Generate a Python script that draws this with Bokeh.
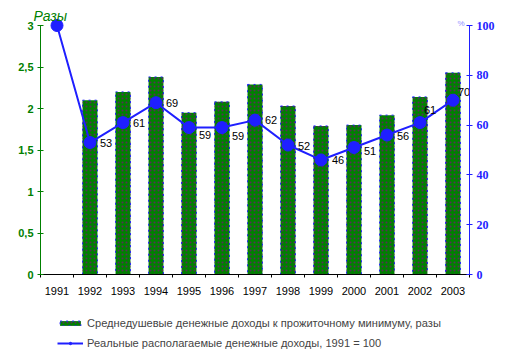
from bokeh.plotting import figure
from bokeh.layouts import column
from bokeh.models import (Range1d, LinearAxis, FixedTicker, Legend, LegendItem,
                          Label, ColumnDataSource)
from bokeh.core.properties import value
from bokeh.embed import file_html
from bokeh.resources import INLINE

# ---- data ----
years = ["1991", "1992", "1993", "1994", "1995", "1996", "1997",
         "1998", "1999", "2000", "2001", "2002", "2003"]
income_ratio = [None, 2.10, 2.20, 2.38, 1.95, 2.08, 2.29, 2.03, 1.79, 1.80, 1.92, 2.14, 2.43]
real_income = [100, 53, 61, 69, 59, 59, 62, 52, 46, 51, 56, 61, 70]
left_ticks = [0, 0.5, 1, 1.5, 2, 2.5, 3]
right_ticks = [0, 20, 40, 60, 80, 100]
bar_label = "Среднедушевые денежные доходы к прожиточному минимуму, разы"
line_label = "Реальные располагаемые денежные доходы, 1991 = 100"
left_title = "Разы"
right_title = "%"

# ---- styling ----
lab_dx = [10, 10, 10, 10, 10, 10, 10, 11, 10, 10, 4, 5]
lab_dy = [0.5, 0.5, 0, 7, 8, 0, 0.5, 0, 3, 0.5, -12.5, -8.5]
GREEN = "#008000"
BLUE = "#1f1fff"
W = 508
TOP = 17               # border above the frame
FRAME_H = 257          # frame (extends 8px above the axes' top)
AXIS_H = 249           # length of the value axes
BOTTOM = 30
LEG_H = 52

n = len(years)
centers = [i + 0.5 for i in range(n)]
left_max, right_max = 3, 100
extra = FRAME_H / AXIS_H

bar_style = dict(fill_color=GREEN, line_color=BLUE, line_dash="dotted", line_width=1,
                 hatch_pattern="dot", hatch_color="#5a2a5a", hatch_scale=4, hatch_weight=1)
line_style = dict(line_color=BLUE, line_width=2)
pt_style = dict(fill_color=BLUE, line_color=BLUE)

# ---- main chart ----
p = figure(width=W, height=TOP + FRAME_H + BOTTOM, frame_height=FRAME_H,
           min_border_left=40, min_border_right=W - 40 - 429,
           min_border_top=TOP, min_border_bottom=BOTTOM,
           x_range=Range1d(0, n), y_range=Range1d(0, left_max * extra),
           output_backend="svg", toolbar_location=None)
p.extra_y_ranges = {"pct": Range1d(0, right_max * extra)}
p.xgrid.visible = False
p.ygrid.visible = False
p.outline_line_color = None

p.title.text = left_title
p.title.align = "left"
p.title.offset = -7
p.title.standoff = -12
p.title.text_font = "Liberation Sans"
p.title.text_font_style = "italic"
p.title.text_font_size = "14px"
p.title.text_color = GREEN

bx = [c for c, v in zip(centers, income_ratio) if v is not None]
bt = [v for v in income_ratio if v is not None]
bars = p.vbar(x=bx, top=bt, width=0.45, bottom=0, **bar_style)
p.line(centers, real_income, y_range_name="pct", **line_style)
p.scatter(centers, real_income, y_range_name="pct", size=12, **pt_style)

src = ColumnDataSource(dict(x=centers[1:], y=real_income[1:],
                            t=[str(v) for v in real_income[1:]], dx=lab_dx, dy=lab_dy))
p.text(x="x", y="y", text="t", source=src, y_range_name="pct",
       x_offset="dx", y_offset="dy", text_font=value("Liberation Sans"),
       text_font_size="11px", text_color="black",
       text_align="left", text_baseline="middle")

p.add_layout(Label(x=n, y=left_max, text=right_title, x_offset=-12, y_offset=2,
                   text_font="Liberation Sans", text_font_size="8px",
                   text_color="#9090ff", text_baseline="alphabetic"))

xa = p.xaxis[0]
xa.ticker = FixedTicker(ticks=centers, minor_ticks=list(range(n + 1)))
xa.major_label_overrides = {c: y for c, y in zip(centers, years)}
xa.major_tick_in = 0
xa.major_tick_out = 0
xa.minor_tick_in = 0
xa.minor_tick_out = 3
xa.axis_line_color = "black"
xa.minor_tick_line_color = "black"
xa.major_label_text_font = "Liberation Sans"
xa.major_label_text_font_size = "11px"
xa.major_label_text_color = "black"
xa.major_label_standoff = 9

ya = p.yaxis[0]
ya.ticker = FixedTicker(ticks=left_ticks)
ya.bounds = (0, left_max)
ya.major_label_overrides = {t: (f"{t:g}").replace(".", ",") for t in left_ticks}
ya.axis_line_color = GREEN
ya.major_tick_line_color = GREEN
ya.major_tick_in = 3
ya.major_tick_out = 3
ya.minor_tick_line_color = None
ya.major_label_text_color = GREEN
ya.major_label_text_font = "Liberation Sans"
ya.major_label_text_font_style = "bold"
ya.major_label_text_font_size = "11px"
ya.major_label_standoff = 4

ra = LinearAxis(y_range_name="pct", ticker=FixedTicker(ticks=right_ticks),
                bounds=(0, right_max))
ra.axis_line_color = BLUE
ra.major_tick_line_color = BLUE
ra.major_tick_in = 3
ra.major_tick_out = 3
ra.minor_tick_line_color = None
ra.major_label_text_color = BLUE
ra.major_label_text_font = "Liberation Serif"
ra.major_label_text_font_style = "bold"
ra.major_label_text_font_size = "12px"
ra.major_label_standoff = 4
p.add_layout(ra, "right")

# ---- legend strip (frame aligned with the chart's frame) ----
nan = float("nan")
lg = figure(width=W, height=LEG_H, x_range=Range1d(0, 1), y_range=Range1d(0, 1),
            min_border_left=40, min_border_right=W - 40 - 429,
            min_border_top=0, min_border_bottom=0,
            output_backend="svg", toolbar_location=None)
lg.xaxis.visible = False
lg.yaxis.visible = False
lg.xgrid.visible = False
lg.ygrid.visible = False
lg.outline_line_color = None
lb = lg.vbar(x=[nan], top=[nan], width=0.45, **bar_style)
ll = lg.line(x=[nan, nan], y=[nan, nan], **line_style)
lp = lg.scatter(x=[nan], y=[nan], size=12, **pt_style)
legend = Legend(items=[LegendItem(label=bar_label, renderers=[lb]),
                       LegendItem(label=line_label, renderers=[ll, lp])],
                location=(17, 6), glyph_width=26, glyph_height=6,
                label_height=14, spacing=6, padding=0, margin=0,
                label_standoff=4, border_line_alpha=0, background_fill_alpha=0,
                label_text_font="Liberation Sans", label_text_font_size="11.1px")
lg.add_layout(legend, "center")

layout = column(p, lg, spacing=0)
open("out.html", "w").write(file_html(layout, INLINE))
